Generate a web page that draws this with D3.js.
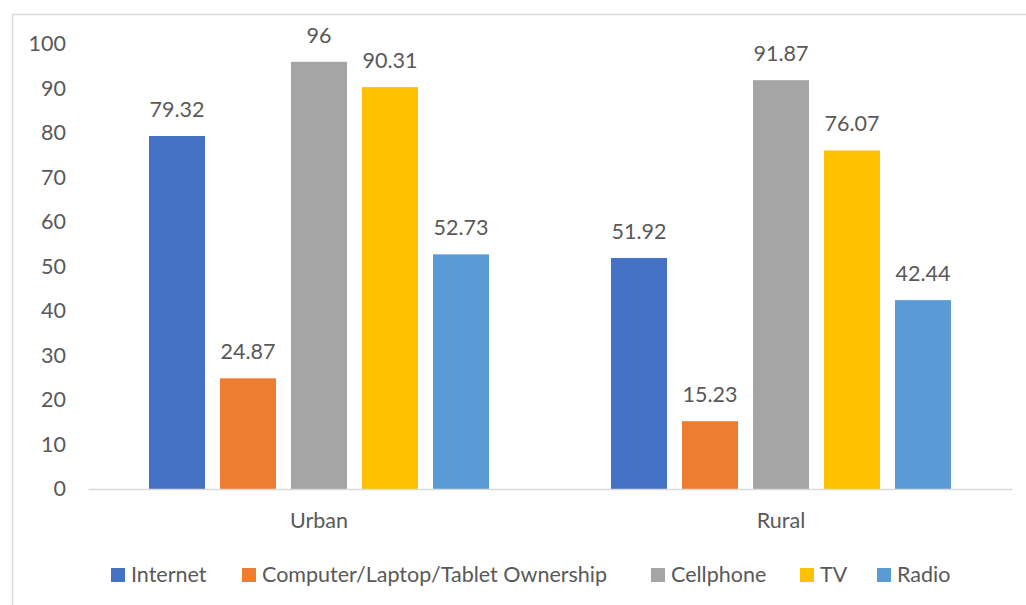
<!DOCTYPE html>
<html>
<head>
<meta charset="utf-8">
<script src="https://cdn.jsdelivr.net/npm/d3@7"></script>
<style>
  html, body { margin: 0; padding: 0; background: #fff; }
  svg { display: block; }
  text { font-family: Lato, "Open Sans", sans-serif; fill: #595959; }
</style>
</head>
<body>
<svg id="chart" width="1026" height="605"></svg>
<script>
// Access to media and devices by area (%)
const categories = ["Urban", "Rural"];
const seriesNames = ["Internet", "Computer/Laptop/Tablet Ownership", "Cellphone", "TV", "Radio"];
const urbanValues = [79.32, 24.87, 96, 90.31, 52.73];
const ruralValues = [51.92, 15.23, 91.87, 76.07, 42.44];
const yTicks = [0, 10, 20, 30, 40, 50, 60, 70, 80, 90, 100];
const seriesColors = ["#4472C4", "#ED7D31", "#A5A5A5", "#FFC000", "#5B9BD5"];

const valuesByCategory = { Urban: urbanValues, Rural: ruralValues };
const FONT = 21.5;

const svg = d3.select("#chart");
const W = 1026, H = 605;

// Chart frame
svg.append("path")
  .attr("d", `M12.5,${H} L12.5,14.5 L${W},14.5`)
  .attr("fill", "none")
  .attr("stroke", "#d9d9d9")
  .attr("stroke-width", 1.5);

const plot = { left: 88, right: 1012, top: 44, bottom: 489 };

const y = d3.scaleLinear().domain([0, 100]).range([plot.bottom, plot.top]);

const x0 = d3.scaleBand().domain(categories).range([plot.left, plot.right]).padding(0);
const groupWidth = 340;
const groupOffset = (x0.bandwidth() - groupWidth) / 2;
const x1 = d3.scaleBand().domain(seriesNames)
  .range([groupOffset, groupOffset + groupWidth])
  .paddingInner(15 / 71).paddingOuter(0);

const color = d3.scaleOrdinal().domain(seriesNames).range(seriesColors);

// Y axis labels (no axis line, no gridlines)
const yAxis = d3.axisLeft(y).tickValues(yTicks).tickSize(0).tickPadding(0);
const yG = svg.append("g").attr("transform", "translate(66,0)").call(yAxis);
yG.select(".domain").remove();
yG.selectAll("text")
  .attr("font-size", FONT)
  .attr("font-family", "Lato, 'Open Sans', sans-serif")
  .attr("fill", "#595959");

// Bars
const groups = svg.append("g").selectAll("g")
  .data(categories)
  .join("g")
  .attr("transform", d => `translate(${x0(d)},0)`);

groups.selectAll("rect")
  .data(c => seriesNames.map((s, i) => ({ series: s, value: valuesByCategory[c][i] })))
  .join("rect")
  .attr("x", d => x1(d.series))
  .attr("width", x1.bandwidth())
  .attr("y", d => y(d.value))
  .attr("height", d => y(0) - y(d.value))
  .attr("fill", d => color(d.series));

// Value labels
groups.selectAll("text.val")
  .data(c => seriesNames.map((s, i) => ({ series: s, value: valuesByCategory[c][i] })))
  .join("text")
  .attr("class", "val")
  .attr("x", d => x1(d.series) + x1.bandwidth() / 2)
  .attr("y", d => y(d.value) - 19)
  .attr("text-anchor", "middle")
  .attr("font-size", FONT)
  .text(d => d3.format("")(d.value));

// X axis baseline and category labels
const xAxis = d3.axisBottom(x0).tickSize(0).tickPadding(0);
const xG = svg.append("g").attr("transform", `translate(0,${plot.bottom})`).call(xAxis);
xG.select(".domain").attr("stroke", "#d9d9d9").attr("stroke-width", 1.5);
xG.selectAll("text")
  .attr("dy", 0)
  .attr("y", 39)
  .attr("font-size", FONT)
  .attr("font-family", "Lato, 'Open Sans', sans-serif")
  .attr("fill", "#595959");

// Legend
const legendX = [111, 242, 651, 800, 877];
const legend = svg.append("g").selectAll("g")
  .data(seriesNames)
  .join("g")
  .attr("transform", (d, i) => `translate(${legendX[i]},568)`);
legend.append("rect")
  .attr("width", 14).attr("height", 14)
  .attr("fill", d => color(d));
legend.append("text")
  .attr("x", 20).attr("y", 14)
  .attr("font-size", FONT)
  .text(d => d);
</script>
</body>
</html>
